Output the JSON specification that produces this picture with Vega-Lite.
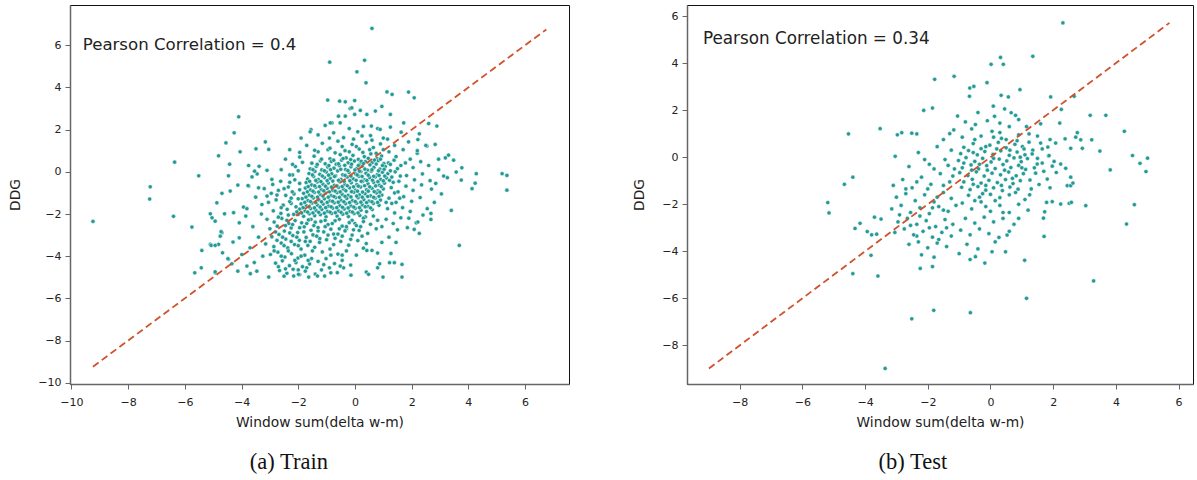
{
"$schema":"https://vega.github.io/schema/vega-lite/v6.json",
"padding":{"left":8,"top":4,"right":3,"bottom":4},
"background":"white",
"config":{
 "view":{"stroke":"#111","strokeWidth":1},
 "font":"DejaVu Sans",
 "axis":{"grid":false,"labelFont":"DejaVu Sans","labelFontSize":11,"labelColor":"#222","titleFont":"DejaVu Sans","titleFontSize":13.8,"titleFontWeight":"normal","titleColor":"#222","domainColor":"#666","domainWidth":1.5,"tickColor":"#666","tickSize":5,"labelPadding":4,"labelFlush":false,"labelOverlap":false},
 "axisX":{"titlePadding":8,"labelPadding":7},
 "axisY":{"titlePadding":15}
},
"datasets":{
"train":[
{"x":-1.44,"y":0.74},{"x":-0.88,"y":0.62},{"x":-0.52,"y":0.81},{"x":-0.31,"y":0.66},{"x":-0.07,"y":0.78},{"x":0.12,"y":0.59},{"x":0.33,"y":0.72},{"x":0.56,"y":0.85},{"x":0.78,"y":0.63},{"x":0.94,"y":0.75},
{"x":-1.52,"y":0.41},{"x":-1.22,"y":0.52},{"x":-1.05,"y":0.38},{"x":-0.83,"y":0.49},{"x":-0.66,"y":0.36},{"x":-0.47,"y":0.55},{"x":-0.24,"y":0.43},{"x":-0.02,"y":0.51},{"x":0.18,"y":0.37},{"x":0.37,"y":0.48},{"x":0.61,"y":0.44},{"x":0.82,"y":0.53},{"x":1.02,"y":0.39},
{"x":-1.58,"y":0.14},{"x":-1.36,"y":0.26},{"x":-1.17,"y":0.09},{"x":-0.96,"y":0.23},{"x":-0.74,"y":0.17},{"x":-0.55,"y":0.29},{"x":-0.33,"y":0.11},{"x":-0.14,"y":0.24},{"x":0.07,"y":0.16},{"x":0.26,"y":0.27},{"x":0.44,"y":0.08},{"x":0.67,"y":0.21},{"x":0.88,"y":0.13},{"x":1.07,"y":0.25},
{"x":-1.62,"y":-0.08},{"x":-1.41,"y":0.02},{"x":-1.24,"y":-0.12},{"x":-1.01,"y":-0.01},{"x":-0.82,"y":-0.09},{"x":-0.61,"y":0.04},{"x":-0.43,"y":-0.14},{"x":-0.21,"y":-0.03},{"x":0.02,"y":-0.1},{"x":0.21,"y":0.01},{"x":0.39,"y":-0.07},{"x":0.58,"y":0.03},{"x":0.79,"y":-0.13},{"x":0.97,"y":-0.02},{"x":1.16,"y":-0.09},
{"x":-1.67,"y":-0.34},{"x":-1.46,"y":-0.22},{"x":-1.29,"y":-0.37},{"x":-1.08,"y":-0.27},{"x":-0.87,"y":-0.31},{"x":-0.68,"y":-0.19},{"x":-0.49,"y":-0.36},{"x":-0.27,"y":-0.25},{"x":-0.06,"y":-0.33},{"x":0.14,"y":-0.21},{"x":0.33,"y":-0.38},{"x":0.52,"y":-0.28},{"x":0.72,"y":-0.24},{"x":0.91,"y":-0.36},{"x":1.11,"y":-0.29},
{"x":-1.72,"y":-0.51},{"x":-1.53,"y":-0.62},{"x":-1.33,"y":-0.48},{"x":-1.13,"y":-0.58},{"x":-0.94,"y":-0.53},{"x":-0.73,"y":-0.64},{"x":-0.54,"y":-0.47},{"x":-0.36,"y":-0.59},{"x":-0.13,"y":-0.52},{"x":0.07,"y":-0.61},{"x":0.27,"y":-0.46},{"x":0.46,"y":-0.57},{"x":0.66,"y":-0.5},{"x":0.86,"y":-0.63},{"x":1.04,"y":-0.54},
{"x":-1.75,"y":-0.77},{"x":-1.57,"y":-0.86},{"x":-1.38,"y":-0.73},{"x":-1.19,"y":-0.84},{"x":-0.98,"y":-0.79},{"x":-0.79,"y":-0.88},{"x":-0.58,"y":-0.74},{"x":-0.4,"y":-0.83},{"x":-0.19,"y":-0.76},{"x":0.01,"y":-0.87},{"x":0.2,"y":-0.72},{"x":0.41,"y":-0.85},{"x":0.6,"y":-0.78},{"x":0.81,"y":-0.9},{"x":1.0,"y":-0.81},
{"x":-1.81,"y":-1.02},{"x":-1.61,"y":-1.11},{"x":-1.43,"y":-0.98},{"x":-1.22,"y":-1.08},{"x":-1.04,"y":-1.01},{"x":-0.84,"y":-1.13},{"x":-0.63,"y":-0.99},{"x":-0.45,"y":-1.07},{"x":-0.24,"y":-1.12},{"x":-0.04,"y":-0.97},{"x":0.16,"y":-1.09},{"x":0.36,"y":-1.04},{"x":0.55,"y":-1.14},{"x":0.76,"y":-1.0},{"x":0.95,"y":-1.1},
{"x":-1.86,"y":-1.27},{"x":-1.66,"y":-1.36},{"x":-1.47,"y":-1.24},{"x":-1.27,"y":-1.33},{"x":-1.08,"y":-1.28},{"x":-0.89,"y":-1.38},{"x":-0.68,"y":-1.22},{"x":-0.49,"y":-1.35},{"x":-0.29,"y":-1.26},{"x":-0.09,"y":-1.37},{"x":0.11,"y":-1.23},{"x":0.31,"y":-1.32},{"x":0.5,"y":-1.39},{"x":0.71,"y":-1.25},{"x":0.9,"y":-1.34},
{"x":-1.9,"y":-1.52},{"x":-1.71,"y":-1.61},{"x":-1.51,"y":-1.48},{"x":-1.32,"y":-1.58},{"x":-1.12,"y":-1.53},{"x":-0.93,"y":-1.63},{"x":-0.73,"y":-1.47},{"x":-0.53,"y":-1.6},{"x":-0.33,"y":-1.51},{"x":-0.14,"y":-1.62},{"x":0.06,"y":-1.49},{"x":0.26,"y":-1.57},{"x":0.46,"y":-1.64},{"x":0.65,"y":-1.5},{"x":0.85,"y":-1.59},
{"x":-1.95,"y":-1.77},{"x":-1.76,"y":-1.86},{"x":-1.56,"y":-1.74},{"x":-1.37,"y":-1.83},{"x":-1.17,"y":-1.78},{"x":-0.97,"y":-1.88},{"x":-0.78,"y":-1.72},{"x":-0.58,"y":-1.85},{"x":-0.38,"y":-1.76},{"x":-0.18,"y":-1.87},{"x":0.01,"y":-1.73},{"x":0.21,"y":-1.82},{"x":0.41,"y":-1.89},{"x":0.61,"y":-1.79},
{"x":-2.0,"y":-2.02},{"x":-1.81,"y":-2.11},{"x":-1.61,"y":-1.99},{"x":-1.42,"y":-2.08},{"x":-1.22,"y":-2.03},{"x":-1.02,"y":-2.13},{"x":-0.82,"y":-1.97},{"x":-0.63,"y":-2.1},{"x":-0.43,"y":-2.01},{"x":-0.23,"y":-2.12},{"x":-0.03,"y":-1.98},{"x":0.17,"y":-2.07},{"x":0.37,"y":-2.14},
{"x":-1.18,"y":0.6},{"x":-0.75,"y":0.55},{"x":-0.42,"y":0.63},{"x":-0.15,"y":0.58},{"x":0.22,"y":0.5},{"x":0.47,"y":0.64},{"x":0.69,"y":0.56},{"x":0.9,"y":0.6},
{"x":-1.33,"y":0.35},{"x":-0.92,"y":0.3},{"x":-0.58,"y":0.38},{"x":-0.36,"y":0.31},{"x":-0.12,"y":0.36},{"x":0.12,"y":0.3},{"x":0.3,"y":0.39},{"x":0.53,"y":0.33},{"x":0.75,"y":0.37},{"x":0.97,"y":0.3},{"x":1.18,"y":0.42},
{"x":-1.48,"y":0.1},{"x":-1.08,"y":0.05},{"x":-0.86,"y":0.1},{"x":-0.5,"y":0.12},{"x":-0.25,"y":0.06},{"x":0.0,"y":0.09},{"x":0.16,"y":0.03},{"x":0.35,"y":0.13},{"x":0.6,"y":0.1},{"x":0.83,"y":0.05},{"x":1.03,"y":0.12},{"x":1.25,"y":0.05},
{"x":-1.5,"y":-0.15},{"x":-1.15,"y":-0.2},{"x":-0.93,"y":-0.16},{"x":-0.72,"y":-0.22},{"x":-0.35,"y":-0.17},{"x":-0.14,"y":-0.2},{"x":0.08,"y":-0.15},{"x":0.25,"y":-0.22},{"x":0.47,"y":-0.16},{"x":0.66,"y":-0.21},{"x":0.85,"y":-0.17},{"x":1.05,"y":-0.2},
{"x":-1.6,"y":-0.45},{"x":-1.38,"y":-0.41},{"x":-1.2,"y":-0.46},{"x":-0.98,"y":-0.42},{"x":-0.78,"y":-0.44},{"x":-0.58,"y":-0.4},{"x":-0.38,"y":-0.45},{"x":-0.18,"y":-0.42},{"x":0.04,"y":-0.4},{"x":0.22,"y":-0.45},{"x":0.42,"y":-0.41},{"x":0.62,"y":-0.4},{"x":0.81,"y":-0.47},{"x":1.0,"y":-0.43},{"x":1.22,"y":-0.4},
{"x":-1.65,"y":-0.7},{"x":-1.42,"y":-0.66},{"x":-1.25,"y":-0.7},{"x":-1.04,"y":-0.68},{"x":-0.83,"y":-0.72},{"x":-0.64,"y":-0.67},{"x":-0.45,"y":-0.7},{"x":-0.27,"y":-0.66},{"x":-0.05,"y":-0.71},{"x":0.12,"y":-0.68},{"x":0.34,"y":-0.66},{"x":0.52,"y":-0.71},{"x":0.73,"y":-0.67},{"x":0.93,"y":-0.7},
{"x":-1.68,"y":-0.95},{"x":-1.48,"y":-0.92},{"x":-1.28,"y":-0.96},{"x":-1.1,"y":-0.9},{"x":-0.9,"y":-0.95},{"x":-0.7,"y":-0.91},{"x":-0.52,"y":-0.95},{"x":-0.32,"y":-0.9},{"x":-0.12,"y":-0.94},{"x":0.09,"y":-0.92},{"x":0.27,"y":-0.96},{"x":0.47,"y":-0.92},{"x":0.68,"y":-0.94},{"x":0.88,"y":-0.96},
{"x":-1.73,"y":-1.2},{"x":-1.52,"y":-1.16},{"x":-1.32,"y":-1.2},{"x":-1.13,"y":-1.15},{"x":-0.94,"y":-1.2},{"x":-0.74,"y":-1.17},{"x":-0.55,"y":-1.21},{"x":-0.35,"y":-1.16},{"x":-0.14,"y":-1.19},{"x":0.06,"y":-1.15},{"x":0.26,"y":-1.2},{"x":0.45,"y":-1.17},{"x":0.66,"y":-1.21},{"x":0.85,"y":-1.16},
{"x":-1.77,"y":-1.45},{"x":-1.57,"y":-1.41},{"x":-1.38,"y":-1.46},{"x":-1.18,"y":-1.42},{"x":-0.98,"y":-1.45},{"x":-0.79,"y":-1.4},{"x":-0.59,"y":-1.44},{"x":-0.39,"y":-1.42},{"x":-0.19,"y":-1.46},{"x":0.01,"y":-1.41},{"x":0.21,"y":-1.44},{"x":0.41,"y":-1.46},{"x":0.6,"y":-1.42},{"x":0.8,"y":-1.45},
{"x":-1.83,"y":-1.7},{"x":-1.62,"y":-1.66},{"x":-1.43,"y":-1.71},{"x":-1.23,"y":-1.67},{"x":-1.03,"y":-1.7},{"x":-0.84,"y":-1.66},{"x":-0.64,"y":-1.7},{"x":-0.44,"y":-1.68},{"x":-0.24,"y":-1.71},{"x":-0.04,"y":-1.67},{"x":0.16,"y":-1.7},{"x":0.36,"y":-1.66},{"x":0.55,"y":-1.71},
{"x":-1.88,"y":-1.95},{"x":-1.67,"y":-1.91},{"x":-1.48,"y":-1.95},{"x":-1.28,"y":-1.92},{"x":-1.08,"y":-1.96},{"x":-0.88,"y":-1.91},{"x":-0.69,"y":-1.94},{"x":-0.49,"y":-1.92},{"x":-0.29,"y":-1.96},{"x":-0.09,"y":-1.91},{"x":0.11,"y":-1.95},
{"x":-1.3,"y":0.95},{"x":-0.95,"y":1.05},{"x":-0.7,"y":0.9},{"x":-0.45,"y":1.2},{"x":-0.2,"y":0.95},{"x":0.05,"y":1.2},{"x":0.28,"y":0.92},{"x":0.52,"y":1.05},{"x":0.75,"y":0.88},{"x":1.0,"y":1.05},{"x":-0.05,"y":1.55},{"x":0.6,"y":1.5},{"x":-0.9,"y":1.6},{"x":0.25,"y":1.7},
{"x":1.38,"y":0.55},{"x":1.42,"y":0.0},{"x":1.35,"y":-0.5},{"x":1.4,"y":-1.0},{"x":1.3,"y":-1.5},{"x":1.6,"y":-0.2},{"x":1.62,"y":0.3},{"x":1.58,"y":-1.25},{"x":1.1,"y":-1.45},
{"x":-1.55,"y":-2.25},{"x":-1.05,"y":-2.3},{"x":-0.55,"y":-2.25},{"x":-0.1,"y":-2.3},{"x":0.3,"y":-2.2},{"x":0.65,"y":-2.1},{"x":-0.3,"y":-2.7},{"x":-1.3,"y":-2.8},{"x":-0.75,"y":-2.95},{"x":0.0,"y":-2.45},
{"x":-2.2,"y":-0.15},{"x":-2.3,"y":-0.5},{"x":-2.15,"y":-1.05},{"x":-2.25,"y":-1.5},{"x":-2.05,"y":-1.9},{"x":-2.4,"y":-2.3},{"x":-1.95,"y":-0.85},{"x":-2.1,"y":0.25},
{"x":-2.9,"y":-0.6},{"x":-2.62,"y":-0.45},{"x":-2.35,"y":-0.72},{"x":-2.12,"y":-0.38},{"x":-1.95,"y":-0.55},
{"x":-2.95,"y":-1.02},{"x":-2.7,"y":-0.88},{"x":-2.44,"y":-1.12},{"x":-2.21,"y":-0.95},{"x":-2.0,"y":-1.28},
{"x":-3.05,"y":-1.45},{"x":-2.78,"y":-1.33},{"x":-2.53,"y":-1.58},{"x":-2.3,"y":-1.41},{"x":-2.08,"y":-1.66},
{"x":-2.88,"y":-1.85},{"x":-2.61,"y":-1.97},{"x":-2.39,"y":-1.78},{"x":-2.16,"y":-2.02},
{"x":-3.1,"y":-2.25},{"x":-2.85,"y":-2.38},{"x":-2.58,"y":-2.21},{"x":-2.33,"y":-2.45},{"x":-2.11,"y":-2.31},{"x":-1.88,"y":-2.42},{"x":-1.64,"y":-2.28},{"x":-1.4,"y":-2.39},
{"x":-3.0,"y":-2.7},{"x":-2.74,"y":-2.58},{"x":-2.49,"y":-2.81},{"x":-2.25,"y":-2.66},{"x":-2.02,"y":-2.88},{"x":-1.79,"y":-2.61},{"x":-1.55,"y":-2.77},{"x":-1.3,"y":-2.64},
{"x":-2.93,"y":-3.08},{"x":-2.68,"y":-2.97},{"x":-2.44,"y":-3.19},{"x":-2.19,"y":-3.02},{"x":-1.96,"y":-3.25},{"x":-1.72,"y":-3.11},{"x":-1.48,"y":-2.99},{"x":-1.24,"y":-3.17},
{"x":-3.15,"y":-3.42},{"x":-2.86,"y":-3.55},{"x":-2.6,"y":-3.38},{"x":-2.37,"y":-3.61},{"x":-2.13,"y":-3.45},{"x":-1.9,"y":-3.66},{"x":-1.66,"y":-3.49},{"x":-1.42,"y":-3.58},
{"x":-2.98,"y":-3.92},{"x":-2.72,"y":-3.81},{"x":-2.47,"y":-4.04},{"x":-2.24,"y":-3.88},{"x":-2.01,"y":-4.09},{"x":-1.77,"y":-3.95},{"x":-1.53,"y":-4.11},
{"x":-2.8,"y":-4.33},{"x":-2.56,"y":-4.22},{"x":-2.31,"y":-4.45},{"x":-2.08,"y":-4.31},{"x":-1.85,"y":-4.5},{"x":-1.6,"y":-4.37},{"x":-2.66,"y":-4.68},{"x":-2.4,"y":-4.81},{"x":-2.18,"y":-4.62},{"x":-1.95,"y":-4.88},{"x":-2.5,"y":-4.95},
{"x":-2.75,"y":-1.1},{"x":-2.5,"y":-0.8},{"x":-2.25,"y":-1.25},{"x":-2.6,"y":-1.7},{"x":-2.35,"y":-2.05},{"x":-2.7,"y":-2.15},{"x":-2.45,"y":-2.55},{"x":-2.2,"y":-2.5},{"x":-1.95,"y":-2.65},{"x":-1.7,"y":-2.45},{"x":-1.45,"y":-2.55},{"x":-2.8,"y":-2.85},{"x":-2.55,"y":-3.1},{"x":-2.3,"y":-2.9},{"x":-2.05,"y":-3.1},{"x":-1.8,"y":-2.85},{"x":-1.58,"y":-3.3},{"x":-1.35,"y":-3.05},{"x":-2.75,"y":-3.25},{"x":-2.5,"y":-3.5},{"x":-2.25,"y":-3.3},{"x":-2.0,"y":-3.5},{"x":-1.75,"y":-3.3},{"x":-1.5,"y":-3.75},{"x":-2.85,"y":-3.75},{"x":-2.6,"y":-4.0},{"x":-2.35,"y":-3.75},{"x":-2.12,"y":-4.2},{"x":-1.9,"y":-4.0},{"x":-1.65,"y":-4.2},{"x":-2.7,"y":-4.5},{"x":-2.45,"y":-4.6},{"x":-2.0,"y":-4.65},{"x":-1.7,"y":-4.55},
{"x":-1.2,"y":-2.35},{"x":-0.95,"y":-2.5},{"x":-0.7,"y":-2.32},{"x":-0.45,"y":-2.58},{"x":-0.2,"y":-2.41},{"x":0.05,"y":-2.55},{"x":0.3,"y":-2.36},{"x":0.55,"y":-2.49},{"x":0.8,"y":-2.3},
{"x":-1.1,"y":-2.85},{"x":-0.85,"y":-2.72},{"x":-0.6,"y":-2.95},{"x":-0.35,"y":-2.8},{"x":-0.1,"y":-3.0},{"x":0.15,"y":-2.78},{"x":0.45,"y":-2.92},{"x":0.75,"y":-2.7},
{"x":-1.25,"y":-3.35},{"x":-1.0,"y":-3.22},{"x":-0.75,"y":-3.45},{"x":-0.5,"y":-3.3},{"x":-0.22,"y":-3.48},{"x":0.1,"y":-3.26},{"x":0.4,"y":-3.4},
{"x":-1.15,"y":-3.8},{"x":-0.88,"y":-3.66},{"x":-0.6,"y":-3.9},{"x":-0.3,"y":-3.75},{"x":0.05,"y":-3.95},{"x":0.3,"y":-3.62},
{"x":-1.3,"y":-4.25},{"x":-1.02,"y":-4.12},{"x":-0.72,"y":-4.35},{"x":-0.45,"y":-4.2},{"x":-0.15,"y":-4.42},{"x":-1.18,"y":-4.65},{"x":-0.9,"y":-4.55},{"x":-0.62,"y":-4.78},{"x":-1.4,"y":-4.85},
{"x":-1.05,"y":-2.6},{"x":-0.8,"y":-2.45},{"x":-0.55,"y":-2.7},{"x":-0.3,"y":-2.6},{"x":-0.05,"y":-2.75},{"x":0.2,"y":-2.6},{"x":-0.95,"y":-3.0},{"x":-0.7,"y":-3.15},{"x":-0.45,"y":-3.05},{"x":-0.15,"y":-3.2},{"x":0.25,"y":-3.05},{"x":-0.85,"y":-3.95},{"x":-0.45,"y":-3.95},{"x":-1.1,"y":-4.4},
{"x":1.2,"y":0.95},{"x":1.45,"y":0.72},{"x":1.7,"y":1.05},{"x":1.95,"y":0.6},{"x":2.2,"y":0.88},
{"x":1.25,"y":0.35},{"x":1.5,"y":0.15},{"x":1.78,"y":0.42},{"x":2.05,"y":0.2},{"x":2.32,"y":0.48},{"x":2.6,"y":0.3},
{"x":1.3,"y":-0.25},{"x":1.55,"y":-0.45},{"x":1.82,"y":-0.18},{"x":2.1,"y":-0.38},{"x":2.38,"y":-0.1},{"x":2.65,"y":-0.42},
{"x":1.28,"y":-0.75},{"x":1.52,"y":-0.95},{"x":1.8,"y":-0.68},{"x":2.05,"y":-0.88},{"x":2.35,"y":-0.62},{"x":2.7,"y":-0.82},
{"x":1.2,"y":-1.25},{"x":1.45,"y":-1.45},{"x":1.72,"y":-1.18},{"x":2.0,"y":-1.4},{"x":2.3,"y":-1.22},
{"x":1.15,"y":-1.75},{"x":1.4,"y":-1.95},{"x":1.68,"y":-1.7},{"x":1.95,"y":-1.88},
{"x":1.1,"y":-2.25},{"x":1.35,"y":-2.45},{"x":1.62,"y":-2.18},{"x":0.95,"y":-2.6},
{"x":-2.3,"y":1.05},{"x":-1.95,"y":0.92},{"x":-1.7,"y":1.25},{"x":-1.42,"y":1.02},{"x":-1.15,"y":1.35},{"x":-0.88,"y":1.12},{"x":-0.6,"y":1.45},{"x":-0.35,"y":1.0},{"x":-0.1,"y":1.3},{"x":0.15,"y":1.08},{"x":0.4,"y":1.4},{"x":0.65,"y":1.15},{"x":0.9,"y":1.32},{"x":1.15,"y":1.55},
{"x":-1.9,"y":1.6},{"x":-1.3,"y":1.75},{"x":-0.75,"y":1.85},{"x":-0.4,"y":1.62},{"x":0.1,"y":1.9},{"x":0.55,"y":1.72},{"x":0.3,"y":2.15},{"x":-0.2,"y":2.05},{"x":-1.05,"y":2.2},{"x":0.8,"y":2.05},{"x":-1.55,"y":2.0},
{"x":-2.45,"y":0.6},{"x":-2.2,"y":0.35},{"x":-1.95,"y":0.7},{"x":-2.6,"y":0.1},{"x":-2.3,"y":-0.15},{"x":-2.0,"y":0.05},{"x":-1.85,"y":0.45},
{"x":-3.5,"y":-1.2},{"x":-3.3,"y":-2.0},{"x":-3.6,"y":-2.6},{"x":-3.4,"y":-3.1},{"x":-3.7,"y":-3.6},{"x":-3.25,"y":-4.0},{"x":-3.55,"y":-4.3},{"x":-3.85,"y":-2.1},{"x":-3.2,"y":-0.8},{"x":-3.45,"y":-0.1},{"x":-3.75,"y":0.3},
{"x":2.85,"y":-0.55},{"x":2.95,"y":0.1},{"x":3.05,"y":-1.05},{"x":2.8,"y":-1.45},{"x":2.55,"y":-1.75},{"x":2.4,"y":-2.05},{"x":1.9,"y":-2.2},{"x":1.85,"y":-2.65},{"x":1.5,"y":-2.75},{"x":1.2,"y":-3.1},{"x":0.95,"y":-3.35},{"x":1.45,"y":-3.35},{"x":0.8,"y":-3.85},{"x":2.95,"y":0.6},{"x":2.2,"y":1.0},{"x":1.0,"y":1.6},{"x":1.4,"y":1.25},
{"x":-4.1,"y":2.61},{"x":-4.26,"y":1.85},{"x":-4.05,"y":0.95},{"x":-4.55,"y":1.37},{"x":-4.81,"y":0.76},{"x":-4.42,"y":0.36},{"x":-6.36,"y":0.46},{"x":-5.51,"y":-0.19},{"x":-4.46,"y":-0.19},{"x":-7.22,"y":-0.71},{"x":-7.24,"y":-1.29},{"x":-4.69,"y":-1.02},{"x":-4.4,"y":-0.91},{"x":-4.13,"y":-0.63},{"x":-3.49,"y":1.09},{"x":-3.16,"y":1.42},{"x":-3.04,"y":1.06},{"x":-3.38,"y":0.26},{"x":-3.75,"y":-0.68},
{"x":-9.24,"y":-2.35},{"x":-6.4,"y":-2.11},{"x":-5.75,"y":-2.62},{"x":-5.4,"y":-3.73},{"x":-5.65,"y":-4.79},{"x":-5.42,"y":-4.55},{"x":-5.1,"y":-3.44},{"x":-4.93,"y":-4.79},{"x":-4.69,"y":-2.89},{"x":-4.81,"y":-3.44},{"x":-5.1,"y":-1.99},{"x":-4.6,"y":-1.99},{"x":-4.3,"y":-3.33},{"x":-4.13,"y":-4.71},{"x":-4.46,"y":-4.15},{"x":-3.69,"y":-4.83},{"x":-3.04,"y":-4.99},{"x":-3.46,"y":-4.71},{"x":-3.81,"y":-4.47},
{"x":0.6,"y":6.8},{"x":-0.89,"y":5.2},{"x":0.34,"y":5.29},{"x":0.07,"y":4.74},{"x":0.39,"y":4.22},{"x":-0.96,"y":3.4},{"x":-0.54,"y":3.35},{"x":-0.34,"y":3.32},{"x":-0.01,"y":3.38},{"x":1.13,"y":3.79},{"x":1.31,"y":3.67},{"x":1.89,"y":3.78},{"x":2.09,"y":3.51},{"x":0.95,"y":3.1},{"x":0.72,"y":2.88},{"x":1.25,"y":2.72},{"x":-0.17,"y":3.0},{"x":0.19,"y":2.91},{"x":-0.58,"y":2.64},{"x":-0.81,"y":2.32},{"x":1.72,"y":2.32},{"x":2.6,"y":2.29},{"x":2.89,"y":2.17},{"x":-1.58,"y":1.9},
{"x":-0.11,"y":3.03},{"x":-0.87,"y":2.32},{"x":-0.52,"y":2.32},{"x":-0.34,"y":2.64},{"x":-0.01,"y":2.72},{"x":0.42,"y":2.72},{"x":0.58,"y":2.17},{"x":0.89,"y":2.01},{"x":1.25,"y":2.12},{"x":2.27,"y":1.8},{"x":1.63,"y":1.88},{"x":1.89,"y":1.42},{"x":2.22,"y":1.53},{"x":2.54,"y":1.22},
{"x":5.19,"y":-0.09},{"x":5.36,"y":-0.17},{"x":5.36,"y":-0.87},{"x":4.28,"y":-0.09},{"x":4.24,"y":-0.54},{"x":4.13,"y":-0.8},{"x":3.77,"y":0.19},{"x":3.57,"y":-0.01},{"x":3.75,"y":-0.39},{"x":3.3,"y":0.79},{"x":3.19,"y":0.66},{"x":3.48,"y":0.55},{"x":3.13,"y":-0.2},{"x":3.26,"y":-0.28},{"x":2.83,"y":1.3},{"x":2.5,"y":1.25},
{"x":3.4,"y":-1.83},{"x":3.68,"y":-3.49},{"x":2.68,"y":-1.97},{"x":2.68,"y":-2.26},{"x":2.16,"y":-2.42},{"x":2.27,"y":-2.92},{"x":2.09,"y":-2.73},{"x":2.22,"y":-2.38},{"x":1.66,"y":-4.39},{"x":1.66,"y":-4.99},{"x":1.27,"y":-3.87},{"x":1.22,"y":-4.31},{"x":1.39,"y":-4.31},{"x":0.99,"y":-4.99},{"x":0.87,"y":-4.36},{"x":0.8,"y":-4.55},{"x":0.4,"y":-4.75},{"x":0.48,"y":-4.86},{"x":-0.14,"y":-4.9},{"x":-0.85,"y":-4.79},{"x":-1.07,"y":-4.94},{"x":-1.32,"y":-4.94},{"x":-1.63,"y":-4.99},{"x":0.6,"y":-3.73},{"x":0.42,"y":-3.73},{"x":-0.4,"y":-4.55},{"x":-0.52,"y":-4.47},{"x":-2.16,"y":-4.94},{"x":-1.99,"y":-4.86},{"x":-1.75,"y":-4.71},
{"x":-4.87,"y":-1.47},{"x":-4.28,"y":-1.94},{"x":-5.04,"y":-2.18},{"x":-4.93,"y":-2.34},{"x":-4.08,"y":-2.42},{"x":-4.72,"y":-2.84},{"x":-4.75,"y":-3.05},{"x":-5.07,"y":-3.49},{"x":-4.93,"y":-3.49},{"x":-4.67,"y":-3.84},{"x":-4.48,"y":-4.12},{"x":-3.99,"y":-3.92},{"x":-4.34,"y":-4.36},{"x":-4.93,"y":-4.74},
{"x":-3.54,"y":0.03},{"x":-3.63,"y":-0.24},{"x":-3.77,"y":-0.65},{"x":-3.93,"y":-1.67},{"x":-3.81,"y":-1.75},{"x":-4.08,"y":-3.13},{"x":-3.1,"y":0.07},{"x":-2.93,"y":-0.36},{"x":-3.4,"y":-0.76},{"x":-3.1,"y":-1.15},{"x":-3.28,"y":-1.55}
],
"test":[
{"x":-0.85,"y":0.42},{"x":-0.55,"y":0.58},{"x":-0.3,"y":0.36},{"x":-0.02,"y":0.51},{"x":0.25,"y":0.63},{"x":0.5,"y":0.4},{"x":0.78,"y":0.55},{"x":1.02,"y":0.45},
{"x":-0.95,"y":0.15},{"x":-0.7,"y":0.28},{"x":-0.42,"y":0.1},{"x":-0.18,"y":0.24},{"x":0.08,"y":0.12},{"x":0.33,"y":0.27},{"x":0.6,"y":0.08},{"x":0.85,"y":0.22},{"x":1.1,"y":0.1},
{"x":-1.02,"y":-0.14},{"x":-0.78,"y":-0.02},{"x":-0.5,"y":-0.18},{"x":-0.25,"y":-0.05},{"x":0.02,"y":-0.2},{"x":0.28,"y":-0.08},{"x":0.52,"y":-0.16},{"x":0.75,"y":-0.03},{"x":0.98,"y":-0.19},{"x":1.18,"y":-0.06},
{"x":-0.9,"y":-0.45},{"x":-0.62,"y":-0.33},{"x":-0.38,"y":-0.5},{"x":-0.12,"y":-0.36},{"x":0.15,"y":-0.48},{"x":0.4,"y":-0.31},{"x":0.65,"y":-0.44},{"x":0.9,"y":-0.35},{"x":1.12,"y":-0.52},
{"x":-0.98,"y":-0.66},{"x":-0.72,"y":-0.78},{"x":-0.45,"y":-0.62},{"x":-0.2,"y":-0.8},{"x":0.05,"y":-0.68},{"x":0.32,"y":-0.75},{"x":0.58,"y":-0.63},{"x":0.82,"y":-0.79},{"x":1.05,"y":-0.7},
{"x":-0.85,"y":-1.05},{"x":-0.58,"y":-0.94},{"x":-0.3,"y":-1.1},{"x":-0.05,"y":-0.98},{"x":0.22,"y":-1.08},{"x":0.48,"y":-0.95},{"x":0.72,"y":-1.12},{"x":0.95,"y":-1.0},
{"x":-0.92,"y":-1.28},{"x":-0.65,"y":-1.38},{"x":-0.4,"y":-1.25},{"x":-0.15,"y":-1.4},{"x":0.1,"y":-1.3},{"x":0.38,"y":-1.42},{"x":0.62,"y":-1.27},{"x":0.88,"y":-1.36},
{"x":-0.7,"y":-1.62},{"x":-0.35,"y":-1.7},{"x":0.0,"y":-1.58},{"x":0.3,"y":-1.72},{"x":0.6,"y":-1.6},
{"x":0.2,"y":0.35},{"x":-0.15,"y":0.45},{"x":0.62,"y":0.3},{"x":-0.55,"y":0.2},{"x":0.95,"y":0.0},{"x":-0.85,"y":-0.25},{"x":-0.35,"y":-0.3},{"x":0.1,"y":-0.05},{"x":0.45,"y":-0.55},{"x":0.7,"y":-0.9},{"x":-0.1,"y":-0.55},{"x":-0.6,"y":-0.55},{"x":1.0,"y":-0.45},{"x":-0.15,"y":-1.2},{"x":0.35,"y":-1.2},{"x":-0.55,"y":-1.15},{"x":0.8,"y":-1.5},{"x":-0.25,"y":-1.55},{"x":0.15,"y":-1.85},{"x":-0.5,"y":-1.85},
{"x":0.5,"y":0.75},{"x":0.1,"y":0.85},{"x":-0.5,"y":0.75},{"x":0.85,"y":0.7},{"x":0.3,"y":1.05},
{"x":-1.5,"y":-1.2},{"x":-2.0,"y":-1.35},{"x":-2.35,"y":-1.05},{"x":-1.7,"y":-1.7},{"x":-2.25,"y":-2.5},{"x":-1.5,"y":-2.25},{"x":-1.85,"y":-2.15},{"x":-2.55,"y":-2.9},{"x":-1.95,"y":-3.0},{"x":-1.4,"y":-3.0},{"x":-2.35,"y":-3.35},{"x":-1.65,"y":-3.5},{"x":-2.9,"y":-2.45},{"x":-2.7,"y":-1.35},{"x":-1.2,"y":-0.8},{"x":-1.8,"y":-0.5},{"x":-2.1,"y":-0.1},{"x":-1.35,"y":-0.35},
{"x":1.5,"y":0.9},{"x":1.15,"y":1.3},{"x":0.9,"y":1.6},{"x":1.9,"y":0.75},{"x":1.65,"y":-0.25},{"x":1.1,"y":-1.8},{"x":0.4,"y":-2.35},{"x":0.9,"y":-2.6},{"x":-0.15,"y":-2.1},
{"x":-3.1,"y":-1.2},{"x":-2.8,"y":-0.95},{"x":-2.5,"y":-1.3},{"x":-2.2,"y":-0.85},{"x":-1.9,"y":-1.15},{"x":-1.6,"y":-0.7},{"x":-1.3,"y":-1.05},{"x":-1.15,"y":-0.5},
{"x":-3.0,"y":-1.7},{"x":-2.7,"y":-1.55},{"x":-2.4,"y":-1.85},{"x":-2.1,"y":-1.6},{"x":-1.8,"y":-1.9},{"x":-1.5,"y":-1.5},{"x":-1.25,"y":-1.75},
{"x":-3.15,"y":-2.2},{"x":-2.85,"y":-2.05},{"x":-2.55,"y":-2.35},{"x":-2.25,"y":-2.15},{"x":-1.95,"y":-2.4},{"x":-1.65,"y":-2.1},{"x":-1.35,"y":-2.3},{"x":-1.1,"y":-2.05},
{"x":-2.95,"y":-2.75},{"x":-2.65,"y":-2.6},{"x":-2.35,"y":-2.85},{"x":-2.05,"y":-2.7},{"x":-1.75,"y":-2.95},{"x":-1.45,"y":-2.65},{"x":-1.2,"y":-2.85},
{"x":-3.05,"y":-3.2},{"x":-2.75,"y":-3.05},{"x":-2.45,"y":-3.3},{"x":-2.15,"y":-3.15},{"x":-1.85,"y":-3.4},{"x":-1.55,"y":-3.2},{"x":-1.25,"y":-3.35},
{"x":-2.6,"y":-3.7},{"x":-2.3,"y":-3.6},{"x":-2.0,"y":-3.85},{"x":-1.7,"y":-3.65},{"x":-1.4,"y":-3.8},{"x":-2.2,"y":-4.15},{"x":-1.8,"y":-4.25},
{"x":-2.3,"y":0.2},{"x":-1.95,"y":-0.3},{"x":-1.7,"y":0.45},{"x":-1.45,"y":-0.1},{"x":-1.25,"y":0.3},{"x":-2.6,"y":-0.4},{"x":-1.5,"y":0.75},
{"x":-0.9,"y":-1.95},{"x":-0.6,"y":-2.2},{"x":-0.3,"y":-1.9},{"x":0.0,"y":-2.3},{"x":0.3,"y":-2.05},{"x":0.6,"y":-2.35},{"x":0.9,"y":-2.0},{"x":1.2,"y":-2.25},
{"x":-0.8,"y":-2.6},{"x":-0.5,"y":-2.8},{"x":-0.2,"y":-2.55},{"x":0.1,"y":-2.75},{"x":0.4,"y":-2.6},{"x":0.75,"y":-2.85},
{"x":-0.95,"y":-3.1},{"x":-0.65,"y":-3.3},{"x":-0.35,"y":-3.05},{"x":-0.05,"y":-3.25},{"x":0.6,"y":-3.15},{"x":-0.75,"y":-3.7},{"x":-0.4,"y":-3.9},{"x":0.15,"y":-3.6},{"x":-1.0,"y":-4.1},{"x":-0.65,"y":-4.35},
{"x":1.35,"y":0.3},{"x":1.5,"y":-0.05},{"x":1.4,"y":-0.45},{"x":1.7,"y":-0.6},{"x":1.6,"y":0.6},{"x":1.85,"y":0.05},{"x":2.1,"y":-0.65},{"x":1.9,"y":-1.3},{"x":1.25,"y":-1.6},
{"x":-1.3,"y":1.0},{"x":-0.9,"y":0.85},{"x":-0.6,"y":1.2},{"x":-0.3,"y":0.9},{"x":0.05,"y":1.1},{"x":0.35,"y":0.8},{"x":0.6,"y":1.3},{"x":0.9,"y":0.95},{"x":-0.1,"y":1.55},{"x":0.3,"y":1.45},{"x":-0.8,"y":1.5},{"x":-1.05,"y":1.75},{"x":0.45,"y":2.05},{"x":-0.4,"y":1.9},
{"x":-1.78,"y":3.31},{"x":-1.16,"y":3.44},{"x":-0.66,"y":2.94},{"x":-0.53,"y":3.01},{"x":-0.67,"y":2.59},{"x":-2.13,"y":1.99},{"x":-1.85,"y":2.09},{"x":-4.53,"y":0.99},{"x":-3.52,"y":1.21},{"x":-2.97,"y":0.95},{"x":-2.83,"y":1.04},{"x":-2.51,"y":1.02},{"x":-2.35,"y":0.99},{"x":-1.17,"y":1.16},{"x":-0.48,"y":1.39},{"x":-4.39,"y":-0.85},{"x":-4.66,"y":-1.15},{"x":-5.19,"y":-1.93},{"x":-5.15,"y":-2.37},{"x":-4.32,"y":-3.03},{"x":-4.16,"y":-2.81},{"x":-3.93,"y":-3.16},{"x":-3.79,"y":-3.3},{"x":-3.7,"y":-2.55},{"x":-3.49,"y":-2.63},{"x":-3.63,"y":-3.27},{"x":-3.81,"y":-4.17},{"x":-4.39,"y":-4.95},{"x":-3.59,"y":-5.05},{"x":-2.24,"y":-4.73},{"x":-1.85,"y":-4.65},{"x":-2.51,"y":-6.87},{"x":-1.81,"y":-6.51},{"x":-0.64,"y":-6.61},{"x":-3.36,"y":-8.98},{"x":-3.04,"y":0.04},
{"x":2.31,"y":5.71},{"x":1.35,"y":4.29},{"x":0.32,"y":4.24},{"x":0.02,"y":3.95},{"x":0.41,"y":3.95},{"x":-0.11,"y":3.17},{"x":0.94,"y":2.87},{"x":0.34,"y":2.63},{"x":0.57,"y":2.56},{"x":1.92,"y":2.56},{"x":0.09,"y":2.17},{"x":2.26,"y":2.03},{"x":0.66,"y":1.89},{"x":0.8,"y":1.78},{"x":3.18,"y":1.78},{"x":3.68,"y":1.78},{"x":2.67,"y":2.59},{"x":0.13,"y":1.74},{"x":2.21,"y":1.45},{"x":4.27,"y":1.1},{"x":2.77,"y":1.04},{"x":2.72,"y":0.85},{"x":2.88,"y":0.74},{"x":3.23,"y":0.74},{"x":2.38,"y":0.78},{"x":2.08,"y":0.6},{"x":2.56,"y":0.38},{"x":2.93,"y":0.38},{"x":3.49,"y":0.26},{"x":3.82,"y":-0.54},{"x":4.53,"y":0.07},{"x":4.77,"y":-0.26},{"x":5.01,"y":-0.04},{"x":4.96,"y":-0.61},{"x":4.59,"y":-2.02},{"x":4.34,"y":-2.84},{"x":3.04,"y":-2.06},{"x":3.29,"y":-5.26},{"x":1.15,"y":-6.0},{"x":1.09,"y":-4.38},{"x":1.71,"y":-3.37},{"x":1.69,"y":-2.59},{"x":1.73,"y":-2.32},{"x":1.79,"y":-1.92},{"x":1.97,"y":-1.89},{"x":2.24,"y":-1.99},{"x":2.51,"y":-1.96},{"x":2.58,"y":-1.92},{"x":0.05,"y":-4.02},{"x":0.48,"y":-4.02},{"x":-0.48,"y":-4.23},{"x":-0.18,"y":-4.5},{"x":0.53,"y":-3.31},{"x":0.27,"y":-3.41},
{"x":2.24,"y":-0.29},{"x":2.4,"y":-0.47},{"x":2.56,"y":-0.85},{"x":2.45,"y":-1.21},{"x":2.56,"y":-1.21},{"x":2.63,"y":-1.1},{"x":1.81,"y":-0.93},{"x":1.97,"y":-0.38},{"x":1.87,"y":0.07},{"x":1.65,"y":0.35},{"x":1.83,"y":0.43},{"x":2.03,"y":-0.18},{"x":1.55,"y":-1.16},{"x":1.3,"y":-1.35},{"x":1.26,"y":-0.97},{"x":1.44,"y":-0.68},{"x":1.49,"y":-0.29},{"x":1.33,"y":0.14},{"x":1.07,"y":0.35},{"x":1.23,"y":0.64},{"x":1.23,"y":0.99},{"x":1.6,"y":1.42}
],
"trainLine":[{"x":-9.24,"y":-9.24},{"x":6.75,"y":6.75}],
"testLine":[{"x":-8.98,"y":-8.98},{"x":5.71,"y":5.71}]
},
"spacing":62,
"hconcat":[
 {
  "title":{"text":"(a) Train","orient":"bottom","font":"Liberation Serif","fontSize":22.5,"fontWeight":"normal","color":"#111","anchor":"middle","frame":"bounds","offset":22},
  "vconcat":[
   {
    "width":499,"height":379,
    "layer":[
     {"data":{"name":"train"},"mark":{"type":"circle","size":18,"color":"#229a95","opacity":1,"stroke":"white","strokeWidth":0.5},
      "encoding":{
       "x":{"field":"x","type":"quantitative","scale":{"domain":[-10.05,7.55],"nice":false,"zero":false},"axis":{"values":[-10,-8,-6,-4,-2,0,2,4,6],"title":"Window sum(delta w-m)"}},
       "y":{"field":"y","type":"quantitative","scale":{"domain":[-10.06,7.91],"nice":false,"zero":false},"axis":{"values":[-10,-8,-6,-4,-2,0,2,4,6],"title":"DDG"}}}},
     {"data":{"name":"trainLine"},"mark":{"type":"line","color":"#d1512b","strokeDash":[7,4],"strokeWidth":1.8},
      "encoding":{"x":{"field":"x","type":"quantitative"},"y":{"field":"y","type":"quantitative"}}},
     {"data":{"values":[{"label":"Pearson Correlation = 0.4"}]},"mark":{"type":"text","align":"left","baseline":"middle","fontSize":16.6,"font":"DejaVu Sans","color":"#222"},
      "encoding":{"x":{"datum":-9.6},"y":{"datum":6.0},"text":{"field":"label"}}}
    ]
   }
  ]
 },
 {
  "title":{"text":"(b) Test","orient":"bottom","font":"Liberation Serif","fontSize":22.5,"fontWeight":"normal","color":"#111","anchor":"middle","frame":"bounds","offset":22},
  "vconcat":[
   {
    "width":506,"height":379,
    "layer":[
     {"data":{"name":"test"},"mark":{"type":"circle","size":18,"color":"#229a95","opacity":1,"stroke":"white","strokeWidth":0.5},
      "encoding":{
       "x":{"field":"x","type":"quantitative","scale":{"domain":[-9.68,6.46],"nice":false,"zero":false},"axis":{"values":[-8,-6,-4,-2,0,2,4,6],"title":"Window sum(delta w-m)"}},
       "y":{"field":"y","type":"quantitative","scale":{"domain":[-9.64,6.47],"nice":false,"zero":false},"axis":{"values":[-8,-6,-4,-2,0,2,4,6],"title":"DDG"}}}},
     {"data":{"name":"testLine"},"mark":{"type":"line","color":"#d1512b","strokeDash":[7,4],"strokeWidth":1.8},
      "encoding":{"x":{"field":"x","type":"quantitative"},"y":{"field":"y","type":"quantitative"}}},
     {"data":{"values":[{"label":"Pearson Correlation = 0.34"}]},"mark":{"type":"text","align":"left","baseline":"middle","fontSize":16.8,"font":"DejaVu Sans","color":"#222"},
      "encoding":{"x":{"datum":-9.17},"y":{"datum":5.03},"text":{"field":"label"}}}
    ]
   }
  ]
 }
]
}
